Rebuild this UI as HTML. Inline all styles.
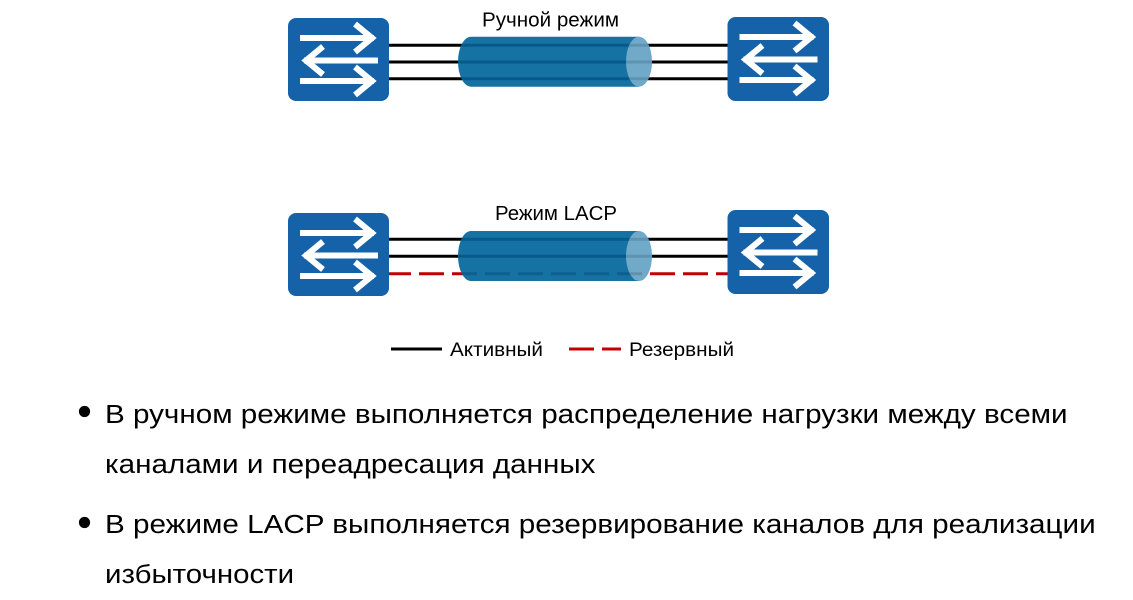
<!DOCTYPE html>
<html>
<head>
<meta charset="utf-8">
<style>
  html, body { margin: 0; padding: 0; background: #ffffff; }
  body { width: 1133px; height: 600px; overflow: hidden; }
  svg { display: block; }
  text { font-family: "Liberation Sans", Arial, "Noto Sans CJK SC", sans-serif; fill: #000; }
</style>
</head>
<body>
<svg width="1133" height="600" viewBox="0 0 1133 600" xmlns="http://www.w3.org/2000/svg">
  <defs>
    <clipPath id="e1"><ellipse cx="639" cy="61.7" rx="13" ry="25"/></clipPath>
    <clipPath id="b1"><path d="M471,36.7 L639,36.7 L639,86.7 L471,86.7 A13,25 0 0 1 471,36.7 Z"/></clipPath>
    <clipPath id="e2"><ellipse cx="639" cy="256" rx="13" ry="25"/></clipPath>
    <clipPath id="b2"><path d="M471,231 L639,231 L639,281 L471,281 A13,25 0 0 1 471,231 Z"/></clipPath>
  </defs>

  <!-- ===== TOP DIAGRAM ===== -->
  <text x="482" y="26.5" font-size="20" textLength="137" lengthAdjust="spacingAndGlyphs">Ручной режим</text>

  <g stroke="#000" stroke-width="3">
    <line x1="386" y1="45.3" x2="730" y2="45.3"/>
    <line x1="386" y1="62" x2="730" y2="62"/>
    <line x1="386" y1="78.7" x2="730" y2="78.7"/>
  </g>

  <path d="M471,36.7 L639,36.7 L639,86.7 L471,86.7 A13,25 0 0 1 471,36.7 Z" fill="#1672a2"/>
  <g clip-path="url(#b1)" stroke="#055a8b" stroke-width="3">
    <line x1="440" y1="45.3" x2="660" y2="45.3"/>
    <line x1="440" y1="62" x2="660" y2="62"/>
    <line x1="440" y1="78.7" x2="660" y2="78.7"/>
  </g>
  <ellipse cx="639" cy="61.7" rx="13" ry="25" fill="#70aac8"/>
  <g clip-path="url(#e1)" stroke="#5e93b1" stroke-width="3">
    <line x1="620" y1="45.3" x2="660" y2="45.3"/>
    <line x1="620" y1="62" x2="660" y2="62"/>
    <line x1="620" y1="78.7" x2="660" y2="78.7"/>
  </g>

  <g transform="translate(288,18)">
    <rect x="0" y="0" width="101" height="83" rx="8" fill="#1562a9"/>
    <g stroke="#fff" stroke-width="6" fill="none" stroke-linejoin="miter" stroke-miterlimit="10">
      <line x1="12" y1="20" x2="86" y2="20"/>
      <polyline points="67,6 84,20 67,34"/>
      <line x1="16" y1="42.5" x2="90" y2="42.5"/>
      <polyline points="35,28.5 18,42.5 35,56.5"/>
      <line x1="12" y1="63" x2="86" y2="63"/>
      <polyline points="67,49 84,63 67,77"/>
    </g>
  </g>
  <g transform="translate(727.5,17)">
    <rect x="0" y="0" width="101.5" height="84" rx="8" fill="#1562a9"/>
    <g stroke="#fff" stroke-width="6" fill="none" stroke-linejoin="miter" stroke-miterlimit="10">
      <line x1="12" y1="20" x2="86" y2="20"/>
      <polyline points="67,6 84,20 67,34"/>
      <line x1="16" y1="42.5" x2="90" y2="42.5"/>
      <polyline points="35,28.5 18,42.5 35,56.5"/>
      <line x1="12" y1="63" x2="86" y2="63"/>
      <polyline points="67,49 84,63 67,77"/>
    </g>
  </g>

  <!-- ===== BOTTOM DIAGRAM ===== -->
  <text x="495" y="220" font-size="20" textLength="122" lengthAdjust="spacingAndGlyphs">Режим LACP</text>

  <g stroke="#000" stroke-width="3">
    <line x1="386" y1="239.3" x2="730" y2="239.3"/>
    <line x1="386" y1="256.3" x2="730" y2="256.3"/>
  </g>
  <line x1="386" y1="273.7" x2="730" y2="273.7" stroke="#c00000" stroke-width="3" stroke-dasharray="25 8"/>

  <path d="M471,231 L639,231 L639,281 L471,281 A13,25 0 0 1 471,231 Z" fill="#1672a2"/>
  <g clip-path="url(#b2)" stroke-width="3">
    <line x1="440" y1="239.3" x2="660" y2="239.3" stroke="#055a8b"/>
    <line x1="440" y1="256.3" x2="660" y2="256.3" stroke="#055a8b"/>
    <line x1="386" y1="273.7" x2="730" y2="273.7" stroke="#0d5f8f" stroke-dasharray="25 8"/>
  </g>
  <ellipse cx="639" cy="256" rx="13" ry="25" fill="#70aac8"/>
  <g clip-path="url(#e2)" stroke-width="3">
    <line x1="620" y1="239.3" x2="660" y2="239.3" stroke="#5e93b1"/>
    <line x1="620" y1="256.3" x2="660" y2="256.3" stroke="#5e93b1"/>
    <line x1="386" y1="273.7" x2="730" y2="273.7" stroke="#6391ad" stroke-dasharray="25 8"/>
  </g>

  <g transform="translate(288,213)">
    <rect x="0" y="0" width="101" height="83" rx="8" fill="#1562a9"/>
    <g stroke="#fff" stroke-width="6" fill="none" stroke-linejoin="miter" stroke-miterlimit="10">
      <line x1="12" y1="20" x2="86" y2="20"/>
      <polyline points="67,6 84,20 67,34"/>
      <line x1="16" y1="42.5" x2="90" y2="42.5"/>
      <polyline points="35,28.5 18,42.5 35,56.5"/>
      <line x1="12" y1="63" x2="86" y2="63"/>
      <polyline points="67,49 84,63 67,77"/>
    </g>
  </g>
  <g transform="translate(727.5,210)">
    <rect x="0" y="0" width="101.5" height="84" rx="8" fill="#1562a9"/>
    <g stroke="#fff" stroke-width="6" fill="none" stroke-linejoin="miter" stroke-miterlimit="10">
      <line x1="12" y1="20" x2="86" y2="20"/>
      <polyline points="67,6 84,20 67,34"/>
      <line x1="16" y1="42.5" x2="90" y2="42.5"/>
      <polyline points="35,28.5 18,42.5 35,56.5"/>
      <line x1="12" y1="63" x2="86" y2="63"/>
      <polyline points="67,49 84,63 67,77"/>
    </g>
  </g>

  <!-- ===== LEGEND ===== -->
  <line x1="391" y1="349" x2="442" y2="349" stroke="#000" stroke-width="3"/>
  <text x="450" y="356" font-size="19" textLength="93" lengthAdjust="spacingAndGlyphs">Активный</text>
  <line x1="569" y1="349" x2="621" y2="349" stroke="#c00000" stroke-width="3" stroke-dasharray="25 8"/>
  <text x="629" y="356" font-size="19" textLength="105" lengthAdjust="spacingAndGlyphs">Резервный</text>

  <!-- ===== BULLETS ===== -->
  <circle cx="84.5" cy="411.5" r="5.6" fill="#000"/>
  <text transform="translate(105,423) scale(1.22,1)" x="0" y="0" font-size="26" textLength="789" lengthAdjust="spacingAndGlyphs">В ручном режиме выполняется распределение нагрузки между всеми</text>
  <text transform="translate(105,473) scale(1.22,1)" x="0" y="0" font-size="26" textLength="402" lengthAdjust="spacingAndGlyphs">каналами и переадресация данных</text>

  <circle cx="84.5" cy="522.5" r="5.6" fill="#000"/>
  <text transform="translate(105,533) scale(1.22,1)" x="0" y="0" font-size="26" textLength="812" lengthAdjust="spacingAndGlyphs">В режиме LACP выполняется резервирование каналов для реализации</text>
  <text transform="translate(105,583) scale(1.22,1)" x="0" y="0" font-size="26" textLength="155" lengthAdjust="spacingAndGlyphs">избыточности</text>
</svg>
</body>
</html>
